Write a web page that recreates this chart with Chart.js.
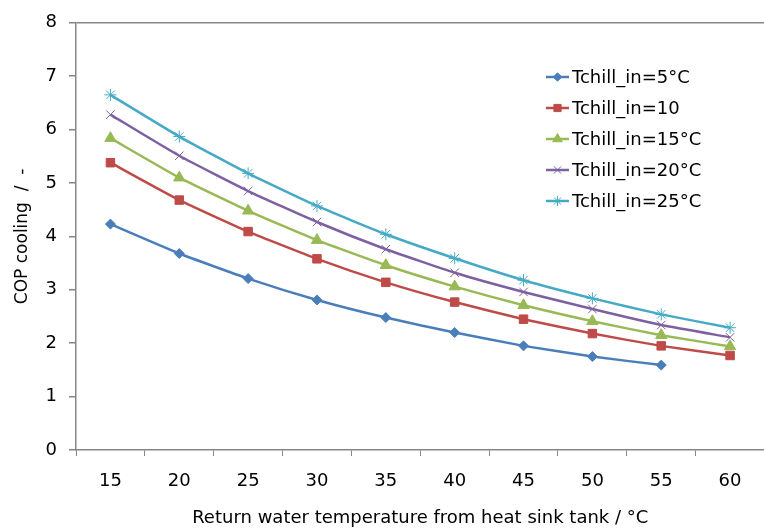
<!DOCTYPE html>
<html>
<head>
<meta charset="utf-8">
<script src="https://cdn.jsdelivr.net/npm/chart.js@4.4.1/dist/chart.umd.min.js"></script>
<style>
  html, body { margin: 0; padding: 0; background: #fff; overflow: hidden; }
  #wrap { width: 772px; height: 529px; }
</style>
</head>
<body>
<div id="wrap"><canvas id="copChart"></canvas></div>
<script>
const returnTemps = ['15', '20', '25', '30', '35', '40', '45', '50', '55', '60'];

const copChill5  = [4.23, 3.68, 3.21, 2.81, 2.48, 2.20, 1.95, 1.75, 1.59, null];
const copChill10 = [5.38, 4.68, 4.09, 3.58, 3.14, 2.77, 2.45, 2.18, 1.95, 1.77];
const copChill15 = [5.84, 5.10, 4.48, 3.93, 3.46, 3.06, 2.71, 2.41, 2.15, 1.94];
const copChill20 = [6.28, 5.51, 4.85, 4.27, 3.76, 3.32, 2.96, 2.64, 2.34, 2.11];
const copChill25 = [6.65, 5.87, 5.18, 4.57, 4.04, 3.59, 3.18, 2.84, 2.54, 2.29];

const yTicks = [0, 1, 2, 3, 4, 5, 6, 7, 8];

const axisGray = '#868686';
const fontFamily = '"DejaVu Sans", sans-serif';

function series(label, data, color, style, radius, bw) {
    return {
        label: label,
        data: data,
        borderColor: color,
        backgroundColor: color,
        borderWidth: 2.5,
        pointStyle: style,
        pointRadius: radius,
        pointBorderWidth: bw,
        pointBorderColor: color,
        pointBackgroundColor: color,
        tension: 0.15,
        fill: false
    };
}

// legend drawn inside the plot, like the original
const insideLegend = {
    id: 'insideLegend',
    afterDraw(chart) {
        const ctx = chart.ctx;
        const x0 = 546, x1 = 569, textX = 572;
        const rowY = [77, 108, 139, 170, 201];
        ctx.save();
        ctx.font = '18px ' + fontFamily;
        ctx.textBaseline = 'middle';
        chart.data.datasets.forEach((ds, i) => {
            const y = rowY[i];
            ctx.strokeStyle = ds.borderColor;
            ctx.fillStyle = ds.backgroundColor;
            ctx.lineWidth = 2.5;
            ctx.beginPath();
            ctx.moveTo(x0, y);
            ctx.lineTo(x1, y);
            ctx.stroke();
            ctx.lineWidth = ds.pointBorderWidth;
            Chart.helpers.drawPoint(ctx, {
                pointStyle: ds.pointStyle,
                radius: ds.pointRadius * 0.85,
                rotation: 0,
                borderWidth: ds.pointBorderWidth
            }, (x0 + x1) / 2, y);
            ctx.fillStyle = '#000';
            ctx.fillText(ds.label, textX, y + 1);
        });
        ctx.restore();
    }
};

const lineConfig = {
    type: 'line',
    data: {
        labels: returnTemps,
        datasets: [
            series('Tchill_in=5°C', copChill5, '#4a7ebb', 'rectRot', 5, 1),
            series('Tchill_in=10', copChill10, '#be4b48', 'rect', 6, 1),
            series('Tchill_in=15°C', copChill15, '#98b954', 'triangle', 6.5, 1),
            series('Tchill_in=20°C', copChill20, '#7d60a0', 'crossRot', 6, 1),
            series('Tchill_in=25°C', copChill25, '#46aac5', 'star', 6, 1)
        ]
    },
    options: {
        responsive: true,
        maintainAspectRatio: false,
        animation: false,
        spanGaps: false,
        layout: {
            padding: { top: 21, right: 1, left: 0, bottom: 0 }
        },
        scales: {
            x: {
                type: 'category',
                offset: true,
                grid: {
                    offset: true,
                    drawOnChartArea: false,
                    drawTicks: true,
                    tickLength: 6,
                    tickColor: axisGray
                },
                border: { color: axisGray, width: 1.5 },
                ticks: {
                    color: '#000',
                    font: { family: fontFamily, size: 18 },
                    padding: 15,
                    maxRotation: 0
                },
                title: {
                    display: true,
                    text: 'Return water temperature from heat sink tank / °C',
                    color: '#000',
                    font: { family: fontFamily, size: 18 },
                    padding: { top: 2, bottom: 0 }
                },
                afterFit(scale) { scale.height = 79; }
            },
            y: {
                min: 0,
                max: 8,
                afterBuildTicks(scale) {
                    scale.ticks = yTicks.map(v => ({ value: v }));
                },
                grid: {
                    // only the top line of the plot frame
                    color: ctx => ctx.tick && ctx.tick.value === 8 ? axisGray : 'rgba(0,0,0,0)',
                    lineWidth: 1.5,
                    tickColor: axisGray,
                    tickLength: 7
                },
                border: { color: axisGray, width: 1.5 },
                ticks: {
                    color: '#000',
                    font: { family: fontFamily, size: 18 },
                    padding: 12
                },
                title: {
                    display: true,
                    text: 'COP cooling  /  -',
                    color: '#000',
                    font: { family: fontFamily, size: 17 },
                    padding: { top: 12, bottom: 0 }
                },
                afterFit(scale) { scale.width = 76; }
            }
        },
        plugins: {
            legend: { display: false },
            tooltip: { enabled: false }
        }
    },
    plugins: [insideLegend]
};

const myLineChart = new Chart(document.getElementById('copChart').getContext('2d'), lineConfig);
</script>
</body>
</html>
